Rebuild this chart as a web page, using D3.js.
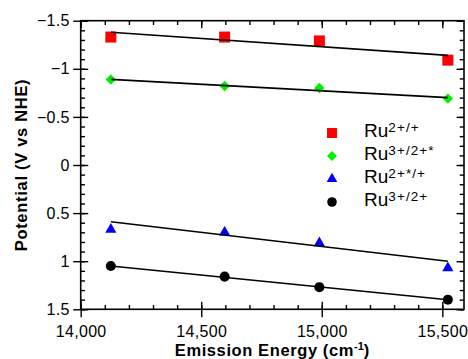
<!DOCTYPE html>
<html>
<head>
<meta charset="utf-8">
<script src="https://cdn.jsdelivr.net/npm/d3@7"></script>
<style>
  body { margin: 0; background: #fff; }
  svg { display: block; font-family: "Liberation Sans", Arial, sans-serif; }
</style>
</head>
<body>
<div id="chart"></div>
<script>
// emission energies (cm-1) of the four complexes
const energies = [14125, 14597, 14990, 15523];

// potentials (V vs NHE), one list per couple
const ruRed     = [-1.33, -1.33, -1.29, -1.09];   // Ru2+/+
const ruOxStar  = [-0.89, -0.82, -0.80, -0.69];   // Ru3+/2+*
const ruRedStar = [0.67, 0.70, 0.81, 1.07];       // Ru2+*/+
const ruOx      = [1.05, 1.16, 1.27, 1.40];       // Ru3+/2+

// fitted lines, value at first and last energy
const fitRed     = [-1.38, -1.14];
const fitOxStar  = [-0.89, -0.70];
const fitRedStar = [0.59, 1.00];
const fitOx      = [1.05, 1.40];

const legendMain = ["Ru", "Ru", "Ru", "Ru"];
const legendSup  = ["2+/+", "3+/2+*", "2+*/+", "3+/2+"];

const xTicks = [14000, 14500, 15000, 15500];
const yTicks = [-1.5, -1, -0.5, 0, 0.5, 1, 1.5];

const W = 468, H = 359;
const mLeft = 80.7, mRight = 464, mTop = 20.7, mBottom = 309.3;

const svg = d3.select("#chart").append("svg")
    .attr("width", W)
    .attr("height", H);

const x = d3.scaleLinear().domain([14000, 15590]).range([mLeft, mRight]);
const y = d3.scaleLinear().domain([-1.5, 1.5]).range([mTop, mBottom]);

const fmtX = d3.format(",");
const fmtY = d => d < 0 ? "\u2212" + Math.abs(d) : String(d);

function styleAxis(g) {
    g.select(".domain").remove();
    g.selectAll("line").attr("stroke", "#000").attr("stroke-width", 1.4);
    g.selectAll("text")
        .attr("fill", "#000")
        .attr("font-size", 16)
        .attr("letter-spacing", 0.3)
        .attr("font-family", "Liberation Sans, Arial, sans-serif");
}

// bottom axis: outward major ticks with labels, inward major + minor
svg.append("g").attr("transform", `translate(0,${mBottom})`)
    .call(d3.axisBottom(x).tickValues(xTicks).tickSize(8).tickPadding(8).tickFormat(fmtX))
    .call(styleAxis);
svg.append("g").attr("transform", `translate(0,${mBottom})`)
    .call(d3.axisBottom(x).tickValues(xTicks).tickSize(-7.5).tickFormat(""))
    .call(styleAxis);
svg.append("g").attr("transform", `translate(0,${mBottom})`)
    .call(d3.axisBottom(x).ticks(16).tickSize(-4.3).tickFormat(""))
    .call(styleAxis);

// top axis, inward only
svg.append("g").attr("transform", `translate(0,${mTop})`)
    .call(d3.axisTop(x).tickValues(xTicks).tickSize(-7.5).tickFormat(""))
    .call(styleAxis);
svg.append("g").attr("transform", `translate(0,${mTop})`)
    .call(d3.axisTop(x).ticks(16).tickSize(-4.3).tickFormat(""))
    .call(styleAxis);

// left axis
svg.append("g").attr("transform", `translate(${mLeft},0)`)
    .call(d3.axisLeft(y).tickValues(yTicks).tickSize(7.5).tickPadding(3.5).tickFormat(fmtY))
    .call(styleAxis);
svg.append("g").attr("transform", `translate(${mLeft},0)`)
    .call(d3.axisLeft(y).tickValues(yTicks).tickSize(-7.5).tickFormat(""))
    .call(styleAxis);
svg.append("g").attr("transform", `translate(${mLeft},0)`)
    .call(d3.axisLeft(y).ticks(30).tickSize(-4.3).tickFormat(""))
    .call(styleAxis);

// right axis, inward only
svg.append("g").attr("transform", `translate(${mRight},0)`)
    .call(d3.axisRight(y).tickValues(yTicks).tickSize(-7.5).tickFormat(""))
    .call(styleAxis);
svg.append("g").attr("transform", `translate(${mRight},0)`)
    .call(d3.axisRight(y).ticks(30).tickSize(-4.3).tickFormat(""))
    .call(styleAxis);

// frame
svg.append("rect")
    .attr("x", mLeft).attr("y", mTop)
    .attr("width", mRight - mLeft).attr("height", mBottom - mTop)
    .attr("fill", "none").attr("stroke", "#000").attr("stroke-width", 1.6);

// series
const series = [
    { vals: ruRed,     fit: fitRed,     color: "#ff0000", sym: d3.symbolSquare,   size: 121, rot: 0,  lsize: 100 },
    { vals: ruOxStar,  fit: fitOxStar,  color: "#00f000", sym: d3.symbolSquare,   size: 55,  rot: 45, lsize: 50 },
    { vals: ruRedStar, fit: fitRedStar, color: "#0000ff", sym: d3.symbolTriangle, size: 54,  rot: 0,  lsize: 50 },
    { vals: ruOx,      fit: fitOx,      color: "#000000", sym: d3.symbolCircle,   size: 80,  rot: 0,  lsize: 72 }
];

const line = d3.line().x(d => x(d[0])).y(d => y(d[1]));
const xEnds = [energies[0], energies[energies.length - 1]];

series.forEach(s => {
    svg.selectAll(null)
        .data(s.vals)
        .enter().append("path")
        .attr("d", d3.symbol().type(s.sym).size(s.size))
        .attr("transform", (d, i) => `translate(${x(energies[i])},${y(d)}) rotate(${s.rot})`)
        .attr("fill", s.color);

    svg.append("path")
        .datum(xEnds.map((e, i) => [e, s.fit[i]]))
        .attr("d", line)
        .attr("fill", "none")
        .attr("stroke", "#000")
        .attr("stroke-width", 1.6);
});

// legend
const legend = svg.append("g").attr("transform", "translate(332,137)");
series.forEach((s, i) => {
    const row = legend.append("g").attr("transform", `translate(0,${i * 23})`);
    row.append("path")
        .attr("d", d3.symbol().type(s.sym).size(s.lsize))
        .attr("transform", `translate(0,-4) rotate(${s.rot})`)
        .attr("fill", s.color);
    const t = row.append("text")
        .attr("x", 32).attr("y", 0)
        .attr("font-size", 19)
        .attr("fill", "#000");
    t.append("tspan").text(legendMain[i]);
    t.append("tspan")
        .attr("dy", -4.8)
        .attr("font-size", 13.5)
        .attr("letter-spacing", 1.1)
        .text(legendSup[i]);
});

// axis titles
const xt = svg.append("text")
    .attr("x", (mLeft + mRight) / 2)
    .attr("y", 356)
    .attr("text-anchor", "middle")
    .attr("font-size", 16.5)
    .attr("font-weight", "bold")
    .attr("letter-spacing", 0.6);
xt.append("tspan").text("Emission Energy (cm");
xt.append("tspan").attr("dy", -6).attr("font-size", 11).attr("letter-spacing", 0).text("-1");
xt.append("tspan").attr("dy", 6).text(")");

svg.append("text")
    .attr("transform", `translate(26.7,${(mTop + mBottom) / 2}) rotate(-90)`)
    .attr("text-anchor", "middle")
    .attr("font-size", 16.5)
    .attr("font-weight", "bold")
    .attr("letter-spacing", 0.7)
    .text("Potential (V vs NHE)");
</script>
</body>
</html>
